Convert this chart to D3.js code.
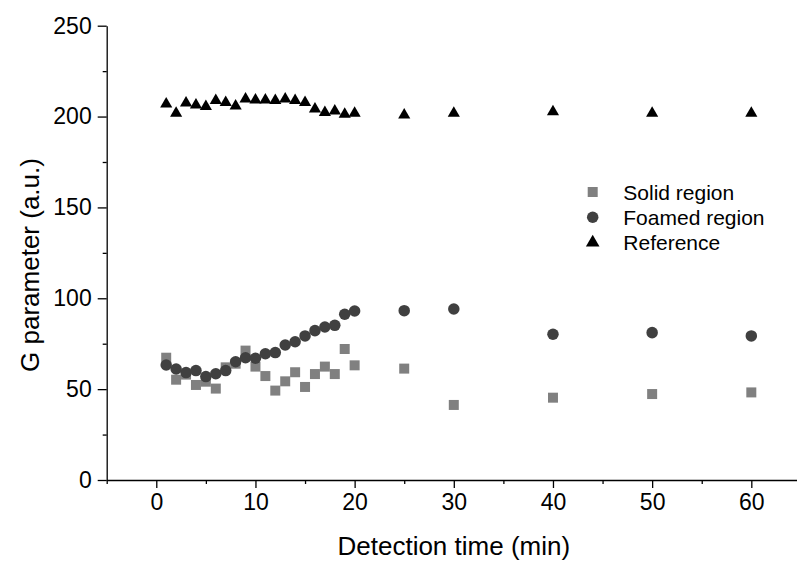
<!DOCTYPE html>
<html lang="en">
<head>
  <meta charset="UTF-8">
  <title>G parameter vs detection time</title>
  <script src="https://d3js.org/d3.v7.min.js"></script>
  <style>
    body { margin: 0; background: #fff; }
    text { font-family: Arial, "Liberation Sans", sans-serif; }
  </style>
</head>
<body>

<script>
  // detection times (min)
  const times = [1, 2, 3, 4, 5, 6, 7, 8, 9, 10, 11, 12, 13, 14, 15, 16, 17, 18, 19, 20, 25, 30, 40, 50, 60];

  // G parameter values
  const solid = [67.3, 55.2, 58, 52.3, 54.1, 50.3, 62, 64, 71.2, 62.4, 57.2, 49.2, 54.3, 59.3, 51.2, 58.3, 62.4, 58.3, 72.1, 63.1, 61.3, 41.3, 45.3, 47.3, 48.2];
  const foamed = [63.3, 61.1, 59.1, 60.2, 56.9, 58.5, 60.2, 65.1, 67.3, 67.0, 69.5, 70.1, 74.3, 76.1, 79.3, 82.2, 84.2, 85.1, 91.2, 93.0, 93.2, 94.1, 80.2, 81.1, 79.3];
  const reference = [206.9, 201.8, 207.4, 206.4, 205.5, 208.8, 207.7, 205.8, 209.7, 209.1, 209.1, 208.8, 209.7, 208.8, 207.7, 204.2, 202.2, 203.1, 201.3, 201.8, 200.9, 201.8, 202.7, 201.8, 201.8];

  const xTicks = [0, 10, 20, 30, 40, 50, 60];
  const xMinor = [-5, 5, 15, 25, 35, 45, 55, 65];
  const yTicks = [0, 50, 100, 150, 200, 250];
  const yMinor = [25, 75, 125, 175, 225];

  const seriesNames = ["Solid region", "Foamed region", "Reference"];

  const width = 797, height = 562;

  const svg = d3.select("body").append("svg")
    .attr("width", width)
    .attr("height", height);

  const x = d3.scaleLinear().domain([-5, 65]).range([106.7, 800.9]);
  const y = d3.scaleLinear().domain([0, 250]).range([480, 25.7]);

  // x axis
  svg.append("g")
    .attr("transform", "translate(0," + y(0) + ")")
    .call(d3.axisBottom(x).tickValues(xMinor).tickSize(4).tickSizeOuter(0).tickFormat(""))
    .call(g => g.select(".domain").remove());

  const xAxis = svg.append("g")
    .attr("transform", "translate(0," + y(0) + ")")
    .call(d3.axisBottom(x).tickValues(xTicks).tickSize(8).tickSizeOuter(0).tickPadding(6));
  xAxis.selectAll("text").style("font-size", "23px").attr("fill", "#000");

  // y axis
  svg.append("g")
    .attr("transform", "translate(" + x(-5) + ",0)")
    .call(d3.axisLeft(y).tickValues(yMinor).tickSize(4).tickSizeOuter(0).tickFormat(""))
    .call(g => g.select(".domain").remove());

  const yAxis = svg.append("g")
    .attr("transform", "translate(" + x(-5) + ",0)")
    .call(d3.axisLeft(y).tickValues(yTicks).tickSize(9).tickSizeOuter(0).tickPadding(6));
  yAxis.selectAll("text").style("font-size", "23px").attr("fill", "#000");

  svg.selectAll(".domain, .tick line").attr("stroke", "#000").attr("stroke-width", 1.3);

  // axis titles
  svg.append("text")
    .attr("x", (x(-5) + x(65)) / 2)
    .attr("y", 555)
    .attr("text-anchor", "middle")
    .style("font-size", "26px")
    .text("Detection time (min)");

  svg.append("text")
    .attr("transform", "translate(39," + 265 + ") rotate(-90)")
    .attr("text-anchor", "middle")
    .style("font-size", "26px")
    .text("G parameter (a.u.)");

  // markers
  const shapes = [d3.symbolSquare, d3.symbolCircle, d3.symbolTriangle];
  const sizes = [100, 104, 64];
  const colors = ["#808080", "#404040", "#000000"];
  const allSeries = [solid, foamed, reference];

  allSeries.forEach((vals, k) => {
    const sym = d3.symbol().type(shapes[k]).size(sizes[k]);
    svg.append("g").selectAll("path")
      .data(vals)
      .enter().append("path")
      .attr("d", sym)
      .attr("transform", (d, i) => "translate(" + x(times[i]) + "," + y(d) + ")")
      .attr("fill", colors[k]);
  });

  // legend
  const legend = svg.selectAll(".legend")
    .data(seriesNames)
    .enter().append("g")
    .attr("class", "legend")
    .attr("transform", (d, i) => "translate(592.7," + (192 + i * 25.3) + ")");

  legend.append("path")
    .attr("d", (d, i) => d3.symbol().type(shapes[i]).size(i === 2 ? 80 : sizes[i])())
    .attr("fill", (d, i) => colors[i]);

  legend.append("text")
    .attr("x", 30.6)
    .attr("dy", "0.36em")
    .style("font-size", "21px")
    .text(d => d);
</script>

</body>
</html>
